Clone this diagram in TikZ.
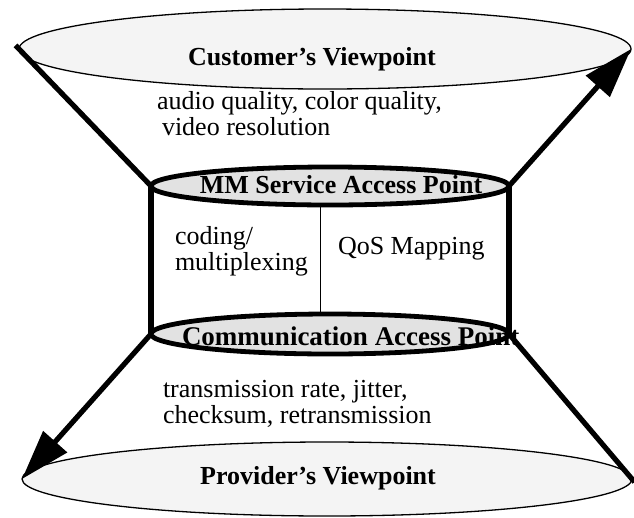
\documentclass[tikz,border=0pt]{standalone}
\usepackage{fontspec}
\setmainfont{Liberation Serif}
\usetikzlibrary{shapes.geometric,arrows.meta}
\definecolor{viewgray}{RGB}{244,244,244}
\definecolor{sapgray}{RGB}{226,226,226}
\begin{document}
\begin{tikzpicture}[x=1pt,y=-1pt]
  \tikzstyle{every node}+=[inner sep=0pt,outer sep=0pt]
  \tikzstyle{viewdisc}=[ellipse,draw=black,line width=1.3pt,fill=viewgray]
  \tikzstyle{sapdisc}=[ellipse,draw=black,line width=4.8pt,fill=sapgray]
  \tikzstyle{tube}=[black,line width=5.2pt]
  \tikzstyle{bigtip}=[-{Triangle[length=50pt,width=31pt]}]
  \tikzstyle{plaintext}=[align=left,font=\fontsize{26}{25.5}\selectfont]
  \tikzstyle{boldtext}=[font=\fontsize{26}{26}\selectfont\bfseries]
  \useasboundingbox (0,0) rectangle (634,517);
  \node [viewdisc,minimum width=612pt,minimum height=80pt] (customer) at (325,49) {};
  \node [viewdisc,minimum width=610pt,minimum height=74pt] (provider) at (327,479) {};
  \node [sapdisc,minimum width=358pt,minimum height=38pt] (mmsap) at (330,186) {};
  \node [sapdisc,minimum width=358pt,minimum height=40pt] (cap) at (330,334) {};
  \node [boldtext,anchor=base] (customerlabel) at (312,65) {Customer's Viewpoint};
  \node [boldtext,anchor=base] (providerlabel) at (318,484) {Provider's Viewpoint};
  \node [boldtext,anchor=base] (mmsaplabel) at (341,193) {MM Service Access Point};
  \node [boldtext,font=\fontsize{27}{27}\selectfont\bfseries,anchor=base west] (caplabel) at (182,345) {Communication Access Point};
  \node [plaintext,anchor=base west] (customerqos) at (157,135) {audio quality, color quality,\\\hspace*{5pt}video resolution};
  \node [plaintext,anchor=base west] (codinglabel) at (175,270) {coding/\\multiplexing};
  \node [plaintext,anchor=base west] (qosmaplabel) at (338,254) {QoS Mapping};
  \node [plaintext,anchor=base west] (providerqos) at (163,423) {transmission rate, jitter,\\checksum, retransmission};
  \coordinate (splittop) at (320,206);
  \coordinate (splitbot) at (320,316);
  \draw [black,line width=1pt] (splittop) -- (splitbot);
  \draw [tube,shorten <=-5pt] (customer.west) -- (mmsap.west);
  \draw [tube,bigtip] (mmsap.east) -- (customer.east);
  \draw [tube] (mmsap.west) -- (cap.west);
  \draw [tube] (mmsap.east) -- (cap.east);
  \draw [tube,bigtip] (cap.west) -- (provider.west);
  \draw [tube,shorten >=-4pt] (cap.east) -- (provider.east);
\end{tikzpicture}
\end{document}
